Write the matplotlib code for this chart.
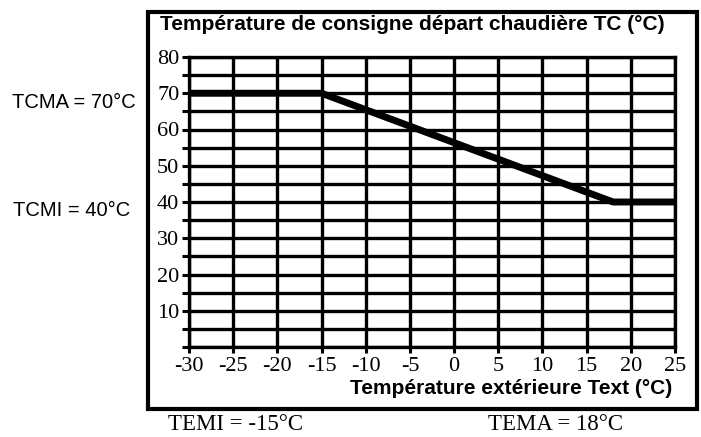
import numpy as np
import matplotlib.pyplot as plt
from matplotlib.patches import Rectangle

# Loi d'eau : consigne chaudière en fonction de la température extérieure
t_ext = [-30, -15, 18, 25]
t_consigne = [70, 70, 40, 40]

x_ticks = list(range(-30, 30, 5))
y_ticks = list(range(0, 85, 5))
y_labels = ['' if v % 10 or v == 0 else str(v) for v in y_ticks]

W, H = 701, 437
fig = plt.figure(figsize=(W / 100, H / 100), dpi=100)

# zone de tracé en pixels : x de 189 à 675, y de 57 à 347
ax = fig.add_axes([189 / W, (H - 347) / H, (675 - 189) / W, (347 - 57) / H])
ax.set_xlim(-30, 25)
ax.set_ylim(0, 80)
ax.set_xticks(x_ticks)
ax.set_xticklabels([str(v) for v in x_ticks], fontfamily='Liberation Serif', fontsize=16)
ax.set_yticks(y_ticks)
ax.set_yticklabels(y_labels, fontfamily='Liberation Serif', fontsize=16)
ax.tick_params(axis='y', length=5, width=2.2, pad=2, colors='black')
ax.tick_params(axis='x', length=4.5, width=2.2, pad=3, colors='black')
ax.grid(True, color='black', linewidth=2.4)
for s in ax.spines.values():
    s.set_linewidth(2.4)
ax.set_axisbelow(True)

ax.plot(t_ext, t_consigne, color='black', linewidth=5, solid_capstyle='butt', zorder=5)

# cadre extérieur
fig.patches.append(Rectangle((148 / W, (H - 409) / H), (697 - 148) / W, (409 - 12) / H,
                             transform=fig.transFigure, fill=False, edgecolor='black',
                             linewidth=3))

fig.text(160 / W, 1 - 24 / H, 'Température de consigne départ chaudière TC (°C)',
         fontfamily='Liberation Sans', fontweight='bold', fontsize=15, va='center', ha='left')
fig.text(672 / W, 1 - 389 / H, 'Température extérieure Text (°C)',
         fontfamily='Liberation Sans', fontweight='bold', fontsize=15, va='center', ha='right')

fig.text(12 / W, 1 - 102 / H, 'TCMA = 70°C', fontfamily='Liberation Sans', fontsize=14.5, va='center')
fig.text(13 / W, 1 - 210 / H, 'TCMI = 40°C', fontfamily='Liberation Sans', fontsize=14.5, va='center')

fig.text(168 / W, 1 - 424 / H, 'TEMI = -15°C', fontfamily='Liberation Serif', fontsize=16.5, va='center')
fig.text(488 / W, 1 - 424 / H, 'TEMA = 18°C', fontfamily='Liberation Serif', fontsize=16.5, va='center')

fig.savefig('out.png', dpi=100)
